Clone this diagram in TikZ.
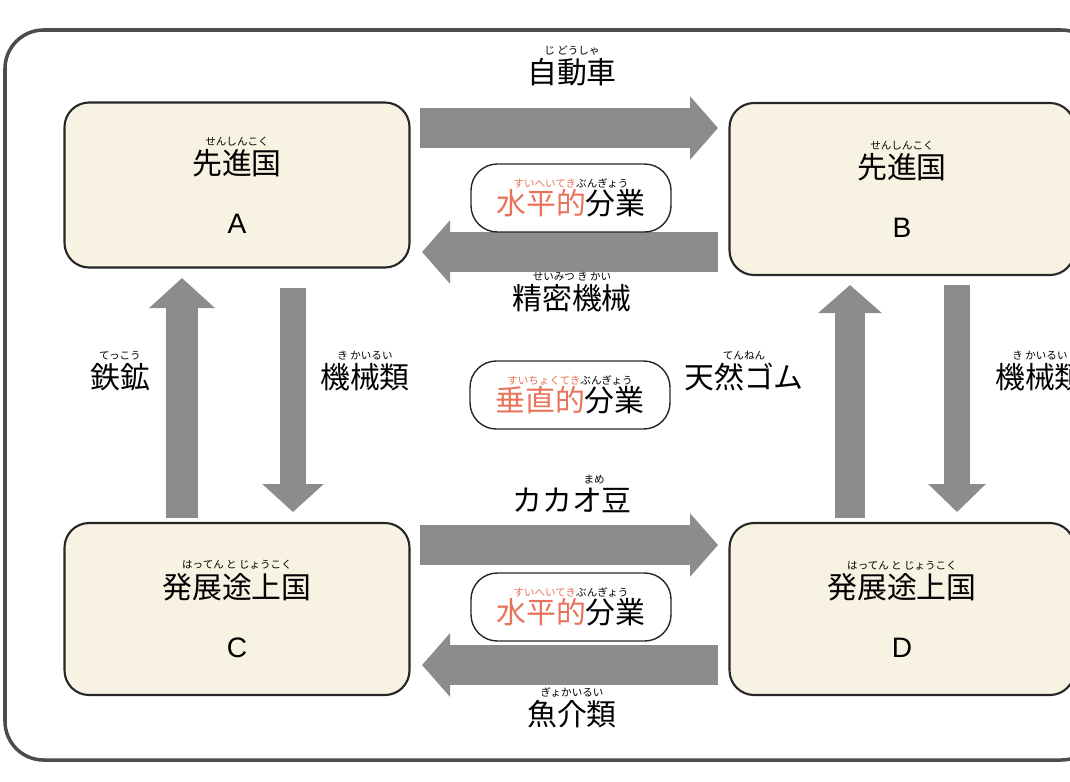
\documentclass[tikz,border=0pt]{standalone}
\usepackage{fontspec}
\setsansfont{Liberation Sans}
\newfontfamily\jp{Noto Sans CJK JP}
\usetikzlibrary{arrows.meta}
\definecolor{boxfill}{HTML}{F8F2E3}
\definecolor{arrowgray}{HTML}{8C8C8C}
\definecolor{redtext}{HTML}{E8735A}
\tikzset{
  country/.style={draw=black!85, line width=1.2pt, fill=boxfill, rounded corners=14pt, minimum width=345*0.02cm, minimum height=165*0.02cm, align=center, inner sep=0pt},
  flow/.style={draw=arrowgray, line width=40*0.02cm, -{Triangle[length=28*0.02cm, width=62*0.02cm]}},
  capsule/.style={draw=black!85, line width=0.8pt, rounded corners=15pt, minimum width=200*0.02cm, minimum height=68*0.02cm, align=center, inner sep=1pt},
  good/.style={align=center, inner sep=0pt}
}
\newcommand{\rb}[1]{{\fontsize{6}{7}\selectfont\jp #1}}
\newcommand{\bigjp}[1]{{\fontsize{17}{19}\selectfont\jp #1}}
\begin{document}
\begin{tikzpicture}[x=0.02cm, y=-0.02cm]
                \useasboundingbox (0,0) rectangle (1070,781);
                % frame
                \draw[black!70, line width=2pt, rounded corners=22pt] (5,30) rectangle (1100,760);
                % the four countries
                \node[country] (A) at (237,185) {\rb{せんしんこく}\\[1pt]\bigjp{先進国}\\[20pt]{\sffamily\fontsize{16}{18}\selectfont A}};
                \node[country, minimum height=172*0.02cm] (B) at (902,189) {\rb{せんしんこく}\\[1pt]\bigjp{先進国}\\[20pt]{\sffamily\fontsize{16}{18}\selectfont B}};
                \node[country, minimum height=172*0.02cm] (C) at (237,609) {\rb{はってん と じょうこく}\\[1pt]\bigjp{発展途上国}\\[20pt]{\sffamily\fontsize{16}{18}\selectfont C}};
                \node[country, minimum height=172*0.02cm] (D) at (902,609) {\rb{はってん と じょうこく}\\[1pt]\bigjp{発展途上国}\\[20pt]{\sffamily\fontsize{16}{18}\selectfont D}};
                % arrow ends
                \coordinate (ab1) at (420,128); \coordinate (ab2) at (718,128);
                \coordinate (ba1) at (718,252); \coordinate (ba2) at (422,252);
                \coordinate (cd1) at (420,545); \coordinate (cd2) at (718,545);
                \coordinate (dc1) at (718,665); \coordinate (dc2) at (422,665);
                \coordinate (ca1) at (182,518); \coordinate (ca2) at (182,278);
                \coordinate (ac1) at (293,288); \coordinate (ac2) at (293,512);
                \coordinate (db1) at (850,518); \coordinate (db2) at (850,285);
                \coordinate (bd1) at (957,285); \coordinate (bd2) at (957,512);
                \draw[flow] (ab1) -- (ab2);
                \draw[flow] (ba1) -- (ba2);
                \draw[flow] (cd1) -- (cd2);
                \draw[flow] (dc1) -- (dc2);
                \draw[flow, line width=32*0.02cm, -{Triangle[length=30*0.02cm, width=64*0.02cm]}] (ca1) -- (ca2);
                \draw[flow, line width=26*0.02cm, -{Triangle[length=28*0.02cm, width=60*0.02cm]}] (ac1) -- (ac2);
                \draw[flow, line width=30*0.02cm, -{Triangle[length=28*0.02cm, width=62*0.02cm]}] (db1) -- (db2);
                \draw[flow, line width=26*0.02cm, -{Triangle[length=28*0.02cm, width=56*0.02cm]}] (bd1) -- (bd2);
                % the kinds of division of labour
                \node[capsule] (h1) at (571,198) {\rb{\textcolor{redtext}{すいへいてき}ぶんぎょう}\\[0pt]\bigjp{\textcolor{redtext}{水平的}分業}};
                \node[capsule] (v1) at (570,395) {\rb{\textcolor{redtext}{すいちょくてき}ぶんぎょう}\\[0pt]\bigjp{\textcolor{redtext}{垂直的}分業}};
                \node[capsule] (h2) at (571,607) {\rb{\textcolor{redtext}{すいへいてき}ぶんぎょう}\\[0pt]\bigjp{\textcolor{redtext}{水平的}分業}};
                % goods
                \node[good] (car) at (572,66) {\rb{じ どうしゃ}\\[1pt]\bigjp{自動車}};
                \node[good] (mach) at (572,292) {\rb{せいみつ き かい}\\[1pt]\bigjp{精密機械}};
                \node[good] (iron) at (120,371) {\rb{てっこう}\\[1pt]\bigjp{鉄鉱}};
                \node[good] (mcA) at (365,371) {\rb{き かいるい}\\[1pt]\bigjp{機械類}};
                \node[good] (rub) at (744,371) {\rb{てんねん\hspace{3em}}\\[1pt]\bigjp{天然ゴム}};
                \node[good] (mcB) at (1040,371) {\rb{き かいるい}\\[1pt]\bigjp{機械類}};
                \node[good] (cac) at (572,494) {\rb{\hspace{4.2em}まめ}\\[1pt]\bigjp{カカオ豆}};
                \node[good] (fish) at (572,708) {\rb{ぎょかいるい}\\[1pt]\bigjp{魚介類}};
            \end{tikzpicture}
\end{document}
